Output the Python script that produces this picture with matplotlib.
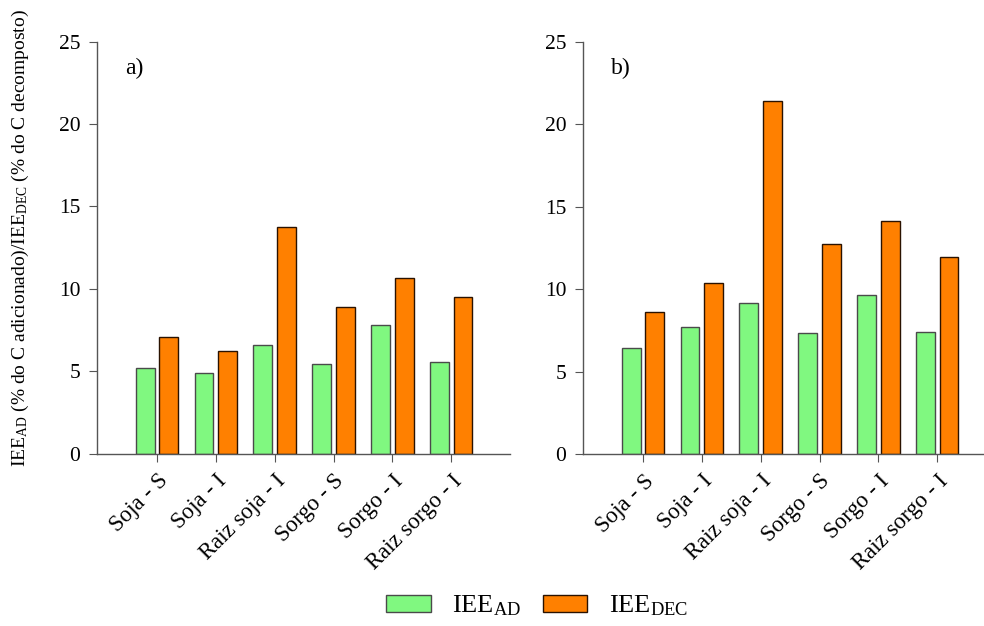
import matplotlib
matplotlib.use("Agg")
import matplotlib.pyplot as plt
import numpy as np
from matplotlib.patches import Patch

plt.rcParams['font.family'] = ['Liberation Serif', 'DejaVu Serif']
plt.rcParams['mathtext.fontset'] = 'custom'
plt.rcParams['mathtext.rm'] = 'Liberation Serif'
plt.rcParams['mathtext.it'] = 'Liberation Serif:italic'

categories = ["Soja - S", "Soja - I", "Raiz soja - I", "Sorgo - S", "Sorgo - I", "Raiz sorgo - I"]
iee_ad_a = [5.18, 4.88, 6.58, 5.44, 7.81, 5.55]
iee_dec_a = [7.10, 6.25, 13.77, 8.92, 10.64, 9.53]
iee_ad_b = [6.41, 7.73, 9.18, 7.32, 9.65, 7.42]
iee_dec_b = [8.63, 10.36, 21.42, 12.74, 14.16, 11.97]
yticks = [0, 5, 10, 15, 20, 25]
panel_labels = ["a)", "b)"]

green = "#80F880"
orange = "#FF8000"
spine_col = "#555555"

fig = plt.figure(figsize=(9.84, 6.26), dpi=100)
axes = [fig.add_axes([97/984, 1-453.7/626, 413/984, (453.7-41.7)/626]),
        fig.add_axes([583/984, 1-454/626, 413/984, (454-42)/626])]

x = np.arange(len(categories))
w = 0.32
for ax, ad, dec, lab in zip(axes, [iee_ad_a, iee_ad_b], [iee_dec_a, iee_dec_b], panel_labels):
    ax.bar(x - 0.2, ad, width=w, color=green, edgecolor="#4a4a4a", linewidth=1.0)
    ax.bar(x + 0.2, dec, width=w, color=orange, edgecolor="#2a1200", linewidth=1.0)
    ax.set_xlim(-1.02, 6.0)
    ax.set_ylim(0, 25)
    ax.set_yticks(yticks)
    ax.set_xticks(x)
    ax.set_xticklabels(categories, rotation=45, ha='right', rotation_mode='anchor', fontsize=16.5)
    ax.tick_params(axis='y', labelsize=15.5, direction='out', length=6, color=spine_col, pad=6)
    ax.tick_params(axis='x', direction='out', length=6, color=spine_col, pad=6)
    for s in ['top', 'right']:
        ax.spines[s].set_visible(False)
    for s in ['left', 'bottom']:
        ax.spines[s].set_color(spine_col)
        ax.spines[s].set_linewidth(1.0)
    ax.text(0.068, 0.936, lab, transform=ax.transAxes, fontsize=17, va='center')

fig.text(20/984, 1-238/626, r"IEE$_{\mathrm{AD}}$ (% do C adicionado)/IEE$_{\mathrm{DEC}}$ (% do C decomposto)",
         rotation=90, ha='center', va='center', fontsize=14)

handles = [Patch(facecolor=green, edgecolor="#4a4a4a"), Patch(facecolor=orange, edgecolor="#2a1200")]
fig.legend(handles, [r"IEE$_{\mathrm{AD}}$", r"IEE$_{\mathrm{DEC}}$"], loc='center', bbox_to_anchor=(537/984, 1-606/626),
           ncol=2, frameon=False, fontsize=19, handlelength=1.7, handleheight=0.6, columnspacing=0.8,
           handletextpad=0.8)

fig.savefig("out.png", dpi=100)
